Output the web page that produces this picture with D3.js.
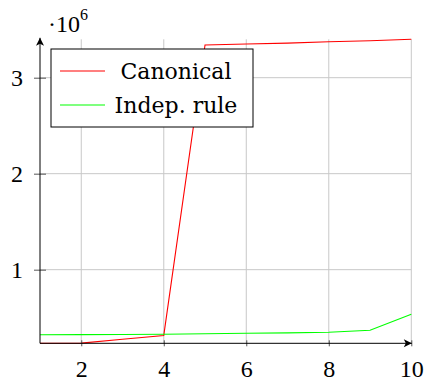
<!DOCTYPE html>
<html>
<head>
<meta charset="utf-8">
<script src="https://cdn.jsdelivr.net/npm/d3@7"></script>
<style>
  html, body { margin: 0; padding: 0; background: #fff; }
  svg { display: block; }
</style>
</head>
<body>
<svg id="chart" width="425" height="384"></svg>
<script>
// data
const xValues = [1, 2, 3, 4, 5, 6, 7, 8, 9, 10];
const canonical = [0.233e6, 0.235e6, 0.275e6, 0.315e6, 3.341e6, 3.351e6, 3.36e6, 3.375e6, 3.385e6, 3.40e6];
const indepRule = [0.322e6, 0.323e6, 0.325e6, 0.327e6, 0.332e6, 0.337e6, 0.342e6, 0.348e6, 0.369e6, 0.535e6];
const xTicks = [2, 4, 6, 8, 10];
const yTicks = [1e6, 2e6, 3e6];
const seriesNames = ["Canonical", "Indep. rule"];
const seriesColors = ["#ff0000", "#00ff00"];

const plotLeft = 40, plotRight = 411.3, plotTop = 39.3, plotBottom = 343.3;
const tickFont = "'Liberation Serif', 'Times New Roman', serif";
const legendFont = "'DejaVu Serif', serif";

const svg = d3.select("#chart");

const x = d3.scaleLinear().domain([1, 10]).range([plotLeft, plotRight]);
const y = d3.scaleLinear().domain([0.233e6, 3.40e6]).range([plotBottom, plotTop]);

// grid
const grid = svg.append("g").attr("stroke", "#c8c8c8").attr("stroke-width", 1);
grid.selectAll("line.v")
  .data(xTicks)
  .join("line")
  .attr("class", "v")
  .attr("x1", d => x(d)).attr("x2", d => x(d))
  .attr("y1", plotTop).attr("y2", plotBottom);
grid.selectAll("line.h")
  .data(yTicks)
  .join("line")
  .attr("class", "h")
  .attr("x1", plotLeft).attr("x2", plotRight)
  .attr("y1", d => y(d)).attr("y2", d => y(d));

// series
const line = d3.line().x((d, i) => x(xValues[i])).y(d => y(d));
svg.append("g")
  .attr("fill", "none")
  .attr("stroke-width", 1.1)
  .selectAll("path")
  .data([canonical, indepRule])
  .join("path")
  .attr("stroke", (d, i) => seriesColors[i])
  .attr("d", line);

// arrow heads
const defs = svg.append("defs");
defs.append("marker")
  .attr("id", "arrow")
  .attr("viewBox", "-9 -5 10 10")
  .attr("refX", 0).attr("refY", 0)
  .attr("markerWidth", 10).attr("markerHeight", 10)
  .attr("markerUnits", "userSpaceOnUse")
  .attr("orient", "auto")
  .append("path")
  .attr("d", "M0,0 L-8,-4 L-6,0 L-8,4 Z")
  .attr("fill", "#000");

// x axis
const xAxis = svg.append("g")
  .attr("transform", `translate(0,${plotBottom})`)
  .call(d3.axisBottom(x).tickValues(xTicks).tickSize(3).tickPadding(14).tickFormat(d3.format("d")));
xAxis.select(".domain").remove();
xAxis.selectAll(".tick line").attr("y1", -3).attr("y2", 3).attr("stroke", "#555");
xAxis.selectAll(".tick text").style("font-family", tickFont).style("font-size", "24px");

// y axis
const yAxis = svg.append("g")
  .attr("transform", `translate(${plotLeft},0)`)
  .call(d3.axisLeft(y).tickValues(yTicks).tickSize(3).tickPadding(14).tickFormat(d => d / 1e6));
yAxis.select(".domain").remove();
yAxis.selectAll(".tick line").attr("x1", -6).attr("x2", 6).attr("stroke", "#555");
yAxis.selectAll(".tick text").style("font-family", tickFont).style("font-size", "24px");

// axis lines
svg.append("line")
  .attr("x1", plotLeft).attr("x2", plotRight + 0.5)
  .attr("y1", plotBottom).attr("y2", plotBottom)
  .attr("stroke", "#000").attr("stroke-width", 1)
  .attr("marker-end", "url(#arrow)");
svg.append("line")
  .attr("x1", plotLeft).attr("x2", plotLeft)
  .attr("y1", plotBottom).attr("y2", plotTop - 1.5)
  .attr("stroke", "#000").attr("stroke-width", 1)
  .attr("marker-end", "url(#arrow)");

// scale label ·10^6
const scaleLabel = svg.append("text")
  .attr("x", 48).attr("y", 32)
  .style("font-family", tickFont).style("font-size", "24px");
scaleLabel.append("tspan").text("·10");
scaleLabel.append("tspan").attr("dy", -12).style("font-size", "16px").text("6");

// legend
const legend = svg.append("g");
legend.append("rect")
  .attr("x", 51).attr("y", 49).attr("width", 202).attr("height", 78)
  .attr("fill", "#fff").attr("stroke", "#000").attr("stroke-width", 1);
const entries = legend.selectAll("g")
  .data(seriesNames)
  .join("g")
  .attr("transform", (d, i) => `translate(0,${71 + i * 34})`);
entries.append("line")
  .attr("x1", 60).attr("x2", 105)
  .attr("stroke", (d, i) => seriesColors[i])
  .attr("stroke-width", 1.1);
entries.append("text")
  .attr("x", 176).attr("y", 8)
  .attr("text-anchor", "middle")
  .style("font-family", legendFont)
  .style("font-size", "22px")
  .text(d => d);
</script>
</body>
</html>
